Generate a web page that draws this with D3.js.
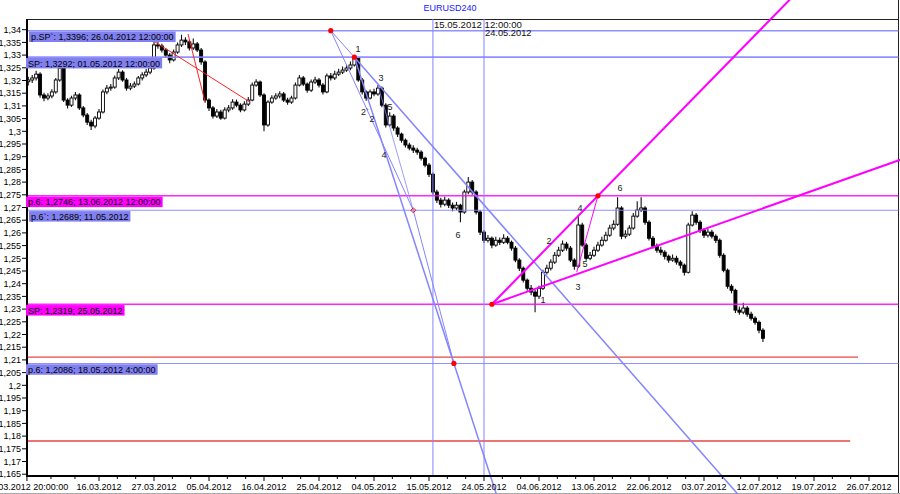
<!DOCTYPE html>
<html><head><meta charset="utf-8">
<script src="https://cdn.jsdelivr.net/npm/d3@7"></script>
<style>body{margin:0;background:#fff}svg{display:block}text{font-family:"Liberation Sans",Arial,sans-serif}</style>
</head><body><svg id="c" width="900" height="494"></svg>
<script>
const title = "EURUSD240";
const firstOpen = 1.3195;
const barStartDay = -9, barStepDay = 0.5;
const closes = [1.3202,1.3210,1.3225,1.3143,1.3131,1.3139,1.3155,1.3202,1.3249,1.3123,
1.3103,1.3131,1.3143,1.3092,1.3064,1.3036,1.3021,1.3052,1.3076,1.3155,
1.3170,1.3174,1.3210,1.3233,1.3202,1.3170,1.3178,1.3186,1.3210,1.3222,
1.3233,1.3249,1.3340,1.3336,1.3320,1.3300,1.3281,1.3312,1.3340,1.3359,
1.3352,1.3328,1.3344,1.3320,1.3273,1.3123,1.3092,1.3060,1.3076,1.3052,
1.3084,1.3092,1.3115,1.3103,1.3084,1.3107,1.3123,1.3182,1.3194,1.3143,
1.3025,1.3115,1.3131,1.3139,1.3147,1.3123,1.3115,1.3131,1.3182,1.3210,
1.3186,1.3162,1.3194,1.3202,1.3182,1.3155,1.3218,1.3210,1.3225,1.3233,
1.3241,1.3249,1.3261,1.3288,1.3202,1.3155,1.3131,1.3155,1.3147,1.3170,
1.3103,1.3025,1.3060,1.3013,1.2989,1.2965,1.2946,1.2934,1.2926,1.2918,
1.2894,1.2867,1.2831,1.2761,1.2729,1.2713,1.2729,1.2709,1.2698,1.2709,
1.2682,1.2761,1.2800,1.2761,1.2682,1.2603,1.2571,1.2579,1.2552,1.2571,
1.2563,1.2579,1.2563,1.2540,1.2493,1.2461,1.2414,1.2382,1.2367,1.2351,
1.2382,1.2445,1.2461,1.2485,1.2512,1.2532,1.2556,1.2540,1.2493,1.2469,
1.2631,1.2552,1.2500,1.2512,1.2532,1.2552,1.2571,1.2591,1.2619,1.2634,
1.2698,1.2587,1.2595,1.2619,1.2666,1.2690,1.2698,1.2642,1.2579,1.2548,
1.2532,1.2524,1.2508,1.2493,1.2500,1.2485,1.2473,1.2445,1.2631,1.2670,
1.2642,1.2611,1.2591,1.2603,1.2587,1.2571,1.2512,1.2453,1.2390,1.2374,
1.2296,1.2288,1.2304,1.2280,1.2264,1.2248,1.2217,1.2185];
const highs = [1.3215,1.3222,1.3238,1.3232,1.3152,1.3150,1.3166,1.3210,1.3268,1.3255,
1.3130,1.3140,1.3155,1.3150,1.3100,1.3072,1.3045,1.3060,1.3088,1.3165,
1.3182,1.3186,1.3220,1.3245,1.3240,1.3210,1.3190,1.3196,1.3218,1.3232,
1.3245,1.3262,1.3352,1.3355,1.3345,1.3328,1.3308,1.3322,1.3350,1.3380,
1.3370,1.3360,1.3365,1.3352,1.3328,1.3280,1.3130,1.3100,1.3088,1.3085,
1.3095,1.3104,1.3126,1.3125,1.3110,1.3118,1.3135,1.3192,1.3205,1.3200,
1.3150,1.3122,1.3142,1.3150,1.3158,1.3155,1.3132,1.3140,1.3192,1.3222,
1.3218,1.3192,1.3204,1.3215,1.3210,1.3190,1.3228,1.3230,1.3238,1.3246,
1.3255,1.3262,1.3275,1.3292,1.3290,1.3210,1.3162,1.3165,1.3168,1.3182,
1.3176,1.3110,1.3075,1.3068,1.3020,1.2995,1.2972,1.2955,1.2945,1.2935,
1.2925,1.2900,1.2875,1.2838,1.2770,1.2738,1.2742,1.2736,1.2720,1.2722,
1.2715,1.2770,1.2820,1.2808,1.2768,1.2690,1.2610,1.2592,1.2586,1.2585,
1.2582,1.2595,1.2588,1.2570,1.2548,1.2500,1.2468,1.2420,1.2395,1.2375,
1.2392,1.2455,1.2475,1.2496,1.2525,1.2545,1.2570,1.2565,1.2548,1.2500,
1.2670,1.2640,1.2560,1.2525,1.2545,1.2565,1.2585,1.2605,1.2632,1.2650,
1.2740,1.2705,1.2610,1.2630,1.2678,1.2725,1.2740,1.2705,1.2650,1.2588,
1.2558,1.2545,1.2532,1.2515,1.2515,1.2510,1.2492,1.2480,1.2640,1.2685,
1.2678,1.2650,1.2618,1.2615,1.2612,1.2595,1.2578,1.2520,1.2460,1.2398,
1.2380,1.2310,1.2325,1.2312,1.2290,1.2272,1.2255,1.2225];
const lows = [1.3180,1.3190,1.3200,1.3132,1.3118,1.3122,1.3130,1.3148,1.3195,1.3115,
1.3090,1.3096,1.3122,1.3084,1.3055,1.3025,1.3005,1.3012,1.3045,1.3070,
1.3146,1.3160,1.3168,1.3202,1.3195,1.3160,1.3162,1.3170,1.3180,1.3200,
1.3214,1.3225,1.3242,1.3325,1.3310,1.3290,1.3268,1.3275,1.3305,1.3332,
1.3340,1.3318,1.3320,1.3312,1.3262,1.3112,1.3080,1.3050,1.3052,1.3045,
1.3046,1.3075,1.3085,1.3095,1.3075,1.3078,1.3100,1.3118,1.3175,1.3135,
1.3000,1.3018,1.3108,1.3124,1.3130,1.3115,1.3105,1.3108,1.3125,1.3176,
1.3178,1.3152,1.3155,1.3186,1.3172,1.3145,1.3150,1.3200,1.3202,1.3218,
1.3226,1.3234,1.3240,1.3255,1.3195,1.3145,1.3120,1.3125,1.3138,1.3140,
1.3095,1.3015,1.3018,1.3002,1.2978,1.2955,1.2936,1.2925,1.2915,1.2908,
1.2885,1.2858,1.2820,1.2750,1.2718,1.2700,1.2705,1.2698,1.2685,1.2690,
1.2642,1.2675,1.2752,1.2750,1.2672,1.2592,1.2560,1.2562,1.2540,1.2545,
1.2552,1.2556,1.2555,1.2530,1.2484,1.2450,1.2405,1.2372,1.2355,1.2288,
1.2340,1.2375,1.2436,1.2452,1.2478,1.2505,1.2525,1.2530,1.2485,1.2455,
1.2462,1.2545,1.2490,1.2492,1.2505,1.2525,1.2545,1.2565,1.2585,1.2610,
1.2628,1.2575,1.2578,1.2588,1.2612,1.2660,1.2682,1.2632,1.2570,1.2538,
1.2522,1.2512,1.2495,1.2482,1.2486,1.2475,1.2460,1.2432,1.2440,1.2625,
1.2632,1.2600,1.2580,1.2582,1.2578,1.2560,1.2502,1.2445,1.2380,1.2362,
1.2285,1.2278,1.2280,1.2270,1.2255,1.2238,1.2205,1.2170];

const tickLabels = ["02.03.2012 20:00:00","16.03.2012","27.03.2012","05.04.2012","16.04.2012","25.04.2012","04.05.2012","15.05.2012","24.05.2012","04.06.2012","13.06.2012","22.06.2012","03.07.2012","12.07.2012","19.07.2012","26.07.2012"];
const tickDays = [-9.17,0,7,14,21,28,35,42,49,56,63,70,77,84,91,98];
const yTicks = [1.165,1.17,1.175,1.18,1.185,1.19,1.195,1.2,1.205,1.21,1.215,1.22,1.225,1.23,1.235,1.24,1.245,1.25,1.255,1.26,1.265,1.27,1.275,1.28,1.285,1.29,1.295,1.3,1.305,1.31,1.315,1.32,1.325,1.33,1.335,1.34];

const levelPrices = [1.3396, 1.3292, 1.2746, 1.2689, 1.2319, 1.2086];
const levelKinds  = ["blue","blue","magenta","blue","magenta","blue"];
const levelTexts  = ["p.SP`: 1,3396; 26.04.2012 12:00:00","SP: 1,3292; 01.05.2012 12:00:00","p.6: 1,2746; 13.06.2012 12:00:00","p.6`: 1,2689; 11.05.2012","SP: 1,2319; 25.05.2012","p.6: 1,2086; 18.05.2012 4:00:00"];
const redLevelPrices = [1.2111, 1.1781];
const redLevelEndDays = [96.6, 95.6];
const vDays = [42.5, 49];
const vTexts = ["15.05.2012 12:00:00", "24.05.2012"];
const P = {
  spp: [29.5, 1.3396], sp1: [32.5, 1.3292], p6p: [40, 1.2689],
  p6: [45.17, 1.2086], sp2: [50, 1.2319], p6b: [63.5, 1.2746],
  e: [60.1, 1.2319], h: [88, 1.2735], w3: [35.5, 1.3182], m5: [60.8, 1.2446]
};
const redPoints = ["spp","sp1","p6","sp2","p6b"];
const redSegs = [[[7.13,1.3352],[19.2,1.3115]], [[11.33,1.3383],[13.5,1.3115]]];
const waveTexts = ["1","3","5","2`","2","4","6","1","2","3","4","5","6"];
const waveDays  = [32.96,35.89,37.04,33.86,34.75,36.27,45.69,56.51,57.27,60.96,61.22,61.85,66.31];
const wavePrices= [1.3324,1.3210,1.3096,1.3076,1.3048,1.2907,1.2592,1.2336,1.2568,1.2387,1.2698,1.2478,1.2777];

const svg = d3.select("#c");
const W = 900, H = 494;
const L = 27, T = 19, R = 898.5, B = 476;
const x = d3.scaleLinear().domain([0, 84]).range([99, 759]);
const y = d3.scaleLinear().domain([1.165, 1.34]).range([474.2, 29.7]);
const pt = k => [x(P[k][0]), y(P[k][1])];
const BLUE = "#8484ff", MAG = "#ff00ff";

svg.append("text").attr("x", 450).attr("y", 11).attr("text-anchor","middle").attr("font-size",9).attr("fill","#2020ff").text(title);

svg.append("line").attr("x1",L).attr("x2",R).attr("y1",T+0.5).attr("y2",T+0.5).attr("stroke","#222").attr("stroke-width",1);
svg.append("line").attr("x1",R).attr("x2",R).attr("y1",0).attr("y2",H).attr("stroke","#222").attr("stroke-width",1);
svg.append("line").attr("x1",0).attr("x2",W).attr("y1",H-0.5).attr("y2",H-0.5).attr("stroke","#aaa").attr("stroke-width",1);

const bars = closes.map((c,i)=>({day: barStartDay + i*barStepDay, o: i ? closes[i-1] : firstOpen, c, h: highs[i], l: lows[i]}));
const cg = svg.append("g");
cg.selectAll("line").data(bars).join("line")
  .attr("x1",d=>x(d.day)).attr("x2",d=>x(d.day))
  .attr("y1",d=>y(d.h)).attr("y2",d=>y(d.l))
  .attr("stroke","#111").attr("stroke-width",1.1);
cg.selectAll("rect").data(bars).join("rect")
  .attr("x",d=>x(d.day)-1.5).attr("width",3)
  .attr("y",d=>y(Math.max(d.o,d.c)))
  .attr("height",d=>Math.max(1, Math.abs(y(d.o)-y(d.c))))
  .attr("fill",d=>d.c>=d.o?"#fff":"#000").attr("stroke","#000").attr("stroke-width",0.9);

levelPrices.forEach((p,i)=>{
  const col = levelKinds[i]==="blue" ? BLUE : MAG;
  const thick = (i<3 || i===4) ? 1.6 : 1.1;
  svg.append("line").attr("x1",L).attr("x2",R).attr("y1",y(p)).attr("y2",y(p)).attr("stroke",col).attr("stroke-width",thick).attr("opacity",levelKinds[i]==="blue"?0.9:0.85);
});
redLevelPrices.forEach((p,i)=>{
  svg.append("line").attr("x1",L).attr("x2",x(redLevelEndDays[i])).attr("y1",y(p)).attr("y2",y(p)).attr("stroke","#e84444").attr("stroke-width",1.4);
});
vDays.forEach((d,i)=>{
  svg.append("line").attr("x1",x(d)).attr("x2",x(d)).attr("y1",T).attr("y2",B).attr("stroke",BLUE).attr("stroke-width",1);
  svg.append("text").attr("x",x(d)+1).attr("y", i===0?28:36).attr("font-size",i===0?9.6:9.3).attr("fill","#111").text(vTexts[i]);
});

function seg(a,b,col,w){ svg.append("line").attr("x1",a[0]).attr("y1",a[1]).attr("x2",b[0]).attr("y2",b[1]).attr("stroke",col).attr("stroke-width",w); }
function extY(a,b,yEnd){ const t=(yEnd-a[1])/(b[1]-a[1]); return [a[0]+t*(b[0]-a[0]), yEnd]; }
function extX(a,b,xEnd){ const t=(xEnd-a[0])/(b[0]-a[0]); return [xEnd, a[1]+t*(b[1]-a[1])]; }

redSegs.forEach(s=>seg([x(s[0][0]),y(s[0][1])],[x(s[1][0]),y(s[1][1])],"#ff2020",1));

seg(pt("spp"), pt("sp1"), BLUE, 1);
seg(pt("spp"), pt("p6p"), BLUE, 1);
seg(pt("p6p"), pt("p6"), BLUE, 1);
seg(pt("w3"), pt("p6p"), BLUE, 0.8);
seg(pt("sp1"), extY(pt("sp1"), pt("p6"), 500), BLUE, 1.5);
seg(pt("sp1"), extY(pt("sp1"), pt("e"), 500), BLUE, 1.5);

seg(pt("sp2"), extY(pt("sp2"), pt("p6b"), -5), MAG, 2);
seg(pt("sp2"), extX(pt("sp2"), pt("h"), 905), MAG, 2);
seg(pt("m5"), pt("p6b"), MAG, 1);

const ax = svg.append("g");
ax.append("line").attr("x1",L).attr("x2",L).attr("y1",T).attr("y2",B+1).attr("stroke","#000").attr("stroke-width",2);
ax.append("line").attr("x1",L-1).attr("x2",R).attr("y1",B).attr("y2",B).attr("stroke","#000").attr("stroke-width",2);
ax.selectAll("line.yt").data(yTicks).join("line").attr("class","yt")
  .attr("x1",L-5).attr("x2",L).attr("y1",d=>y(d)).attr("y2",d=>y(d)).attr("stroke","#000");
ax.selectAll("text.yl").data(yTicks).join("text").attr("class","yl")
  .attr("x",L-6).attr("y",d=>y(d)+3.2).attr("text-anchor","end").attr("font-size",9).attr("fill","#000")
  .text(d=>(+d.toFixed(3)).toString().replace(".",","));
const xtPos = tickDays.map(d=>x(d));
const minor = [];
for(let i=0;i<xtPos.length-1;i++){ const a=xtPos[i], b=xtPos[i+1]; minor.push(a+(b-a)/3, a+2*(b-a)/3); }
ax.selectAll("line.xm").data(minor).join("line").attr("class","xm")
  .attr("x1",d=>d).attr("x2",d=>d).attr("y1",B).attr("y2",B+3).attr("stroke","#000");
ax.selectAll("line.xt").data(xtPos).join("line").attr("class","xt")
  .attr("x1",d=>d).attr("x2",d=>d).attr("y1",B).attr("y2",B+5).attr("stroke","#000");
ax.selectAll("text.xl").data(tickLabels).join("text").attr("class","xl")
  .attr("x",(d,i)=>xtPos[i]).attr("y",490).attr("text-anchor","middle").attr("font-size",9).attr("fill","#000").text(d=>d);

levelPrices.forEach((p,i)=>{
  const col = levelKinds[i]==="blue" ? "#8080f0" : "#ff00ff";
  const bx = levelTexts[i].indexOf("`")>=0 ? 29 : 26;
  const g = svg.append("g");
  const t = g.append("text").attr("x",bx+2).attr("y",y(p)+9.5).attr("font-size",9).attr("fill","#000").text(levelTexts[i]);
  const w = t.node().getComputedTextLength();
  g.insert("rect","text").attr("x",bx).attr("y",y(p)+0.8).attr("width",w+4).attr("height",10.5).attr("fill",col);
});

waveTexts.forEach((t,i)=>{
  svg.append("text").attr("x",x(waveDays[i])).attr("y",y(wavePrices[i])+3.2).attr("text-anchor","middle").attr("font-size",9).attr("fill","#222").text(t);
});

redPoints.forEach(k=>{ const q=pt(k); svg.append("circle").attr("cx",q[0]).attr("cy",q[1]).attr("r",2.6).attr("fill","#ff0000"); });
{ const q=pt("p6p"); svg.append("path").attr("d",`M${q[0]},${q[1]-2.5}L${q[0]+2.5},${q[1]}L${q[0]},${q[1]+2.5}L${q[0]-2.5},${q[1]}Z`).attr("fill","none").attr("stroke","#ff0000").attr("stroke-width",1); }
</script></body></html>
